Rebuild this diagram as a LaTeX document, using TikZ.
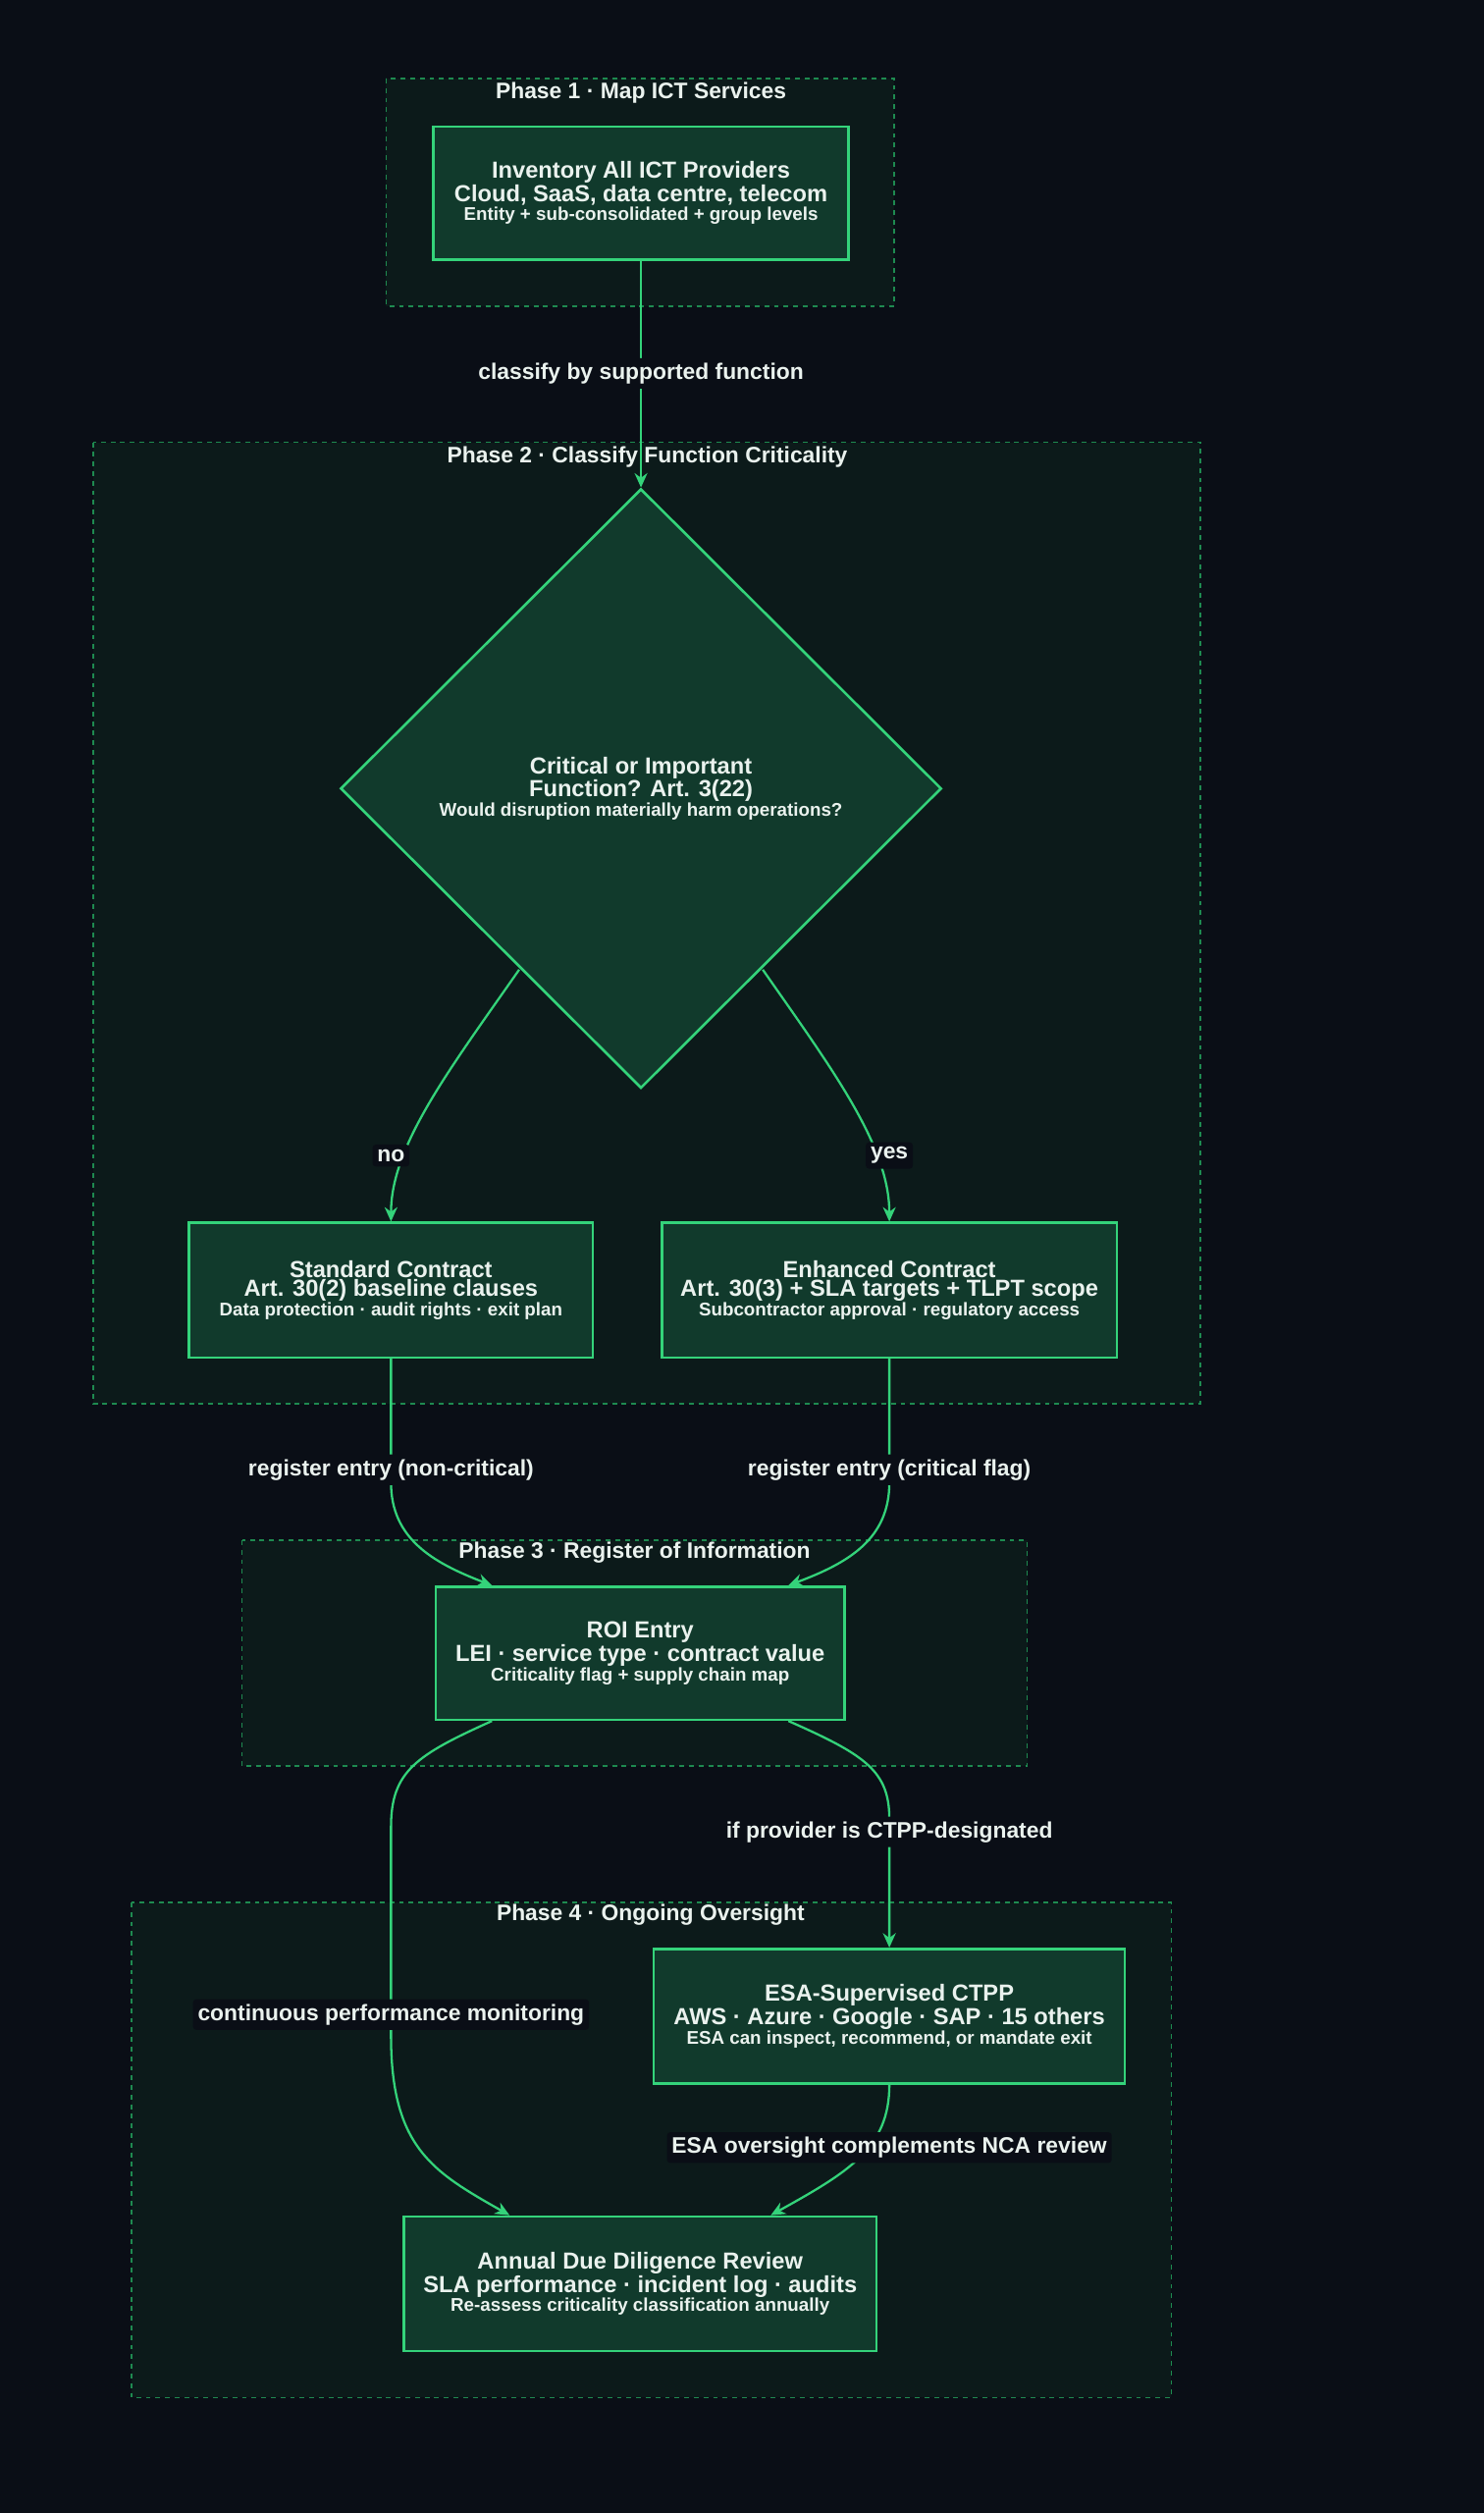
\documentclass[tikz,border=0pt]{standalone}
\usepackage{fontspec}
\setmainfont{Liberation Sans}
\usetikzlibrary{shapes.geometric,arrows.meta,calc}
\definecolor{bgc}{HTML}{0A0E16}
\definecolor{clf}{HTML}{0C1A1A}
\definecolor{cld}{HTML}{1E8A50}
\definecolor{ndf}{HTML}{113A2C}
\definecolor{ndd}{HTML}{34D37A}
\definecolor{txt}{HTML}{EAF2EE}
\tikzset{
 cluster/.style={draw=cld,fill=clf,dashed,line width=1pt},
 ctitle/.style={text=txt,font=\bfseries\fontsize{14}{16}\selectfont},
 box/.style={draw=ndd,fill=ndf,line width=1.6pt,text=txt,align=center,inner sep=0pt},
 conn/.style={draw=ndd,line width=1.4pt,-{Stealth[length=9pt,width=8pt]}},
 lbl/.style={text=txt,fill=bgc,font=\bfseries\fontsize{14}{16}\selectfont,inner sep=3pt,rounded corners=2pt},
}
\newcommand{\Lbig}[1]{{\fontsize{14.5}{19}\selectfont\bfseries #1}}
\newcommand{\Lsm}[1]{{\fontsize{11.5}{19}\selectfont\bfseries #1}}
\begin{document}
\begin{tikzpicture}[x=1pt,y=-1pt]
\fill[bgc] (0,0) rectangle (926,1568);
\useasboundingbox (0,0) rectangle (926,1568);
% clusters
\draw[cluster] (241,49) rectangle (558,191);
\node[ctitle] (t1) at (400,58) {Phase 1 · Map ICT Services};
\draw[cluster] (58,276) rectangle (749,876);
\node[ctitle] (t2) at (404,285) {Phase 2 · Classify Function Criticality};
\draw[cluster] (151,961) rectangle (641,1102);
\node[ctitle] (t3) at (396,969) {Phase 3 · Register of Information};
\draw[cluster] (82,1187) rectangle (731,1496);
\node[ctitle] (t4) at (406,1195) {Phase 4 · Ongoing Oversight};
% nodes
\node[box,minimum width=259pt,minimum height=83pt] (inv) at (400,120.5) {\Lbig{Inventory All ICT Providers}\\\Lbig{Cloud, SaaS, data centre, telecom}\\\Lsm{Entity + sub-consolidated + group levels}};
\node[box,shape=diamond,minimum width=375pt,minimum height=374pt] (dec) at (400,492) {};
\node[text=txt,align=center] (dect) at (400,492) {\Lbig{Critical or Important}\\\Lbig{Function? Art. 3(22)}\\\Lsm{Would disruption materially harm operations?}};
\node[box,minimum width=252pt,minimum height=84pt] (std) at (244,805) {\Lbig{Standard Contract}\\\Lbig{Art. 30(2) baseline clauses}\\\Lsm{Data protection · audit rights · exit plan}};
\node[box,minimum width=284pt,minimum height=84pt] (enh) at (555,805) {\Lbig{Enhanced Contract}\\\Lbig{Art. 30(3) + SLA targets + TLPT scope}\\\Lsm{Subcontractor approval · regulatory access}};
\node[box,minimum width=255pt,minimum height=83pt] (roi) at (399.5,1031.5) {\Lbig{ROI Entry}\\\Lbig{LEI · service type · contract value}\\\Lsm{Criticality flag + supply chain map}};
\node[box,minimum width=294pt,minimum height=84pt] (ctpp) at (555,1258) {\Lbig{ESA-Supervised CTPP}\\\Lbig{AWS · Azure · Google · SAP · 15 others}\\\Lsm{ESA can inspect, recommend, or mandate exit}};
\node[box,minimum width=295pt,minimum height=84pt] (ann) at (399.5,1425) {\Lbig{Annual Due Diligence Review}\\\Lbig{SLA performance · incident log · audits}\\\Lsm{Re-assess criticality classification annually}};
% connectors
\draw[conn] (inv.south) -- (dec.north);
\node[lbl] (l1) at (400,233) {classify by supported function};
\coordinate (dl) at (324,605); \coordinate (dr) at (476,605);
\draw[conn] (dl) .. controls (280,668) and (244,715) .. (std.north);
\draw[conn] (dr) .. controls (520,668) and (555,715) .. (enh.north);
\node[lbl] (l2) at (244,721) {no};
\node[lbl] (l3) at (555,721) {yes};
\coordinate (ri1) at ($(roi.north)+(-92.5,0)$);
\coordinate (ri2) at ($(roi.north)+(92.5,0)$);
\draw[conn] (std.south) -- (244,925) .. controls (244,960) and (270,975) .. (ri1);
\draw[conn] (enh.south) -- (555,925) .. controls (555,960) and (530,975) .. (ri2);
\node[lbl] (l4) at (244,917) {register entry (non-critical)};
\node[lbl] (l5) at (555,917) {register entry (critical flag)};
\coordinate (ro1) at ($(roi.south)+(-92.5,0)$);
\coordinate (ro2) at ($(roi.south)+(92.5,0)$);
\coordinate (ai) at ($(ann.north)+(-81.5,0)$);
\coordinate (ai2) at ($(ann.north)+(81.5,0)$);
\draw[conn] (ro1) .. controls (260,1095) and (244,1105) .. (244,1140) -- (244,1270) .. controls (244,1340) and (270,1355) .. (ai);
\draw[conn] (ro2) .. controls (540,1095) and (555,1105) .. (555,1135) -- (ctpp.north);
\draw[conn] (ctpp.south) .. controls (555,1340) and (530,1355) .. (ai2);
\node[lbl] (l6) at (555,1143) {if provider is CTPP-designated};
\node[lbl] (l7) at (244,1257) {continuous performance monitoring};
\node[lbl] (l8) at (555,1340) {ESA oversight complements NCA review};
\end{tikzpicture}
\end{document}
